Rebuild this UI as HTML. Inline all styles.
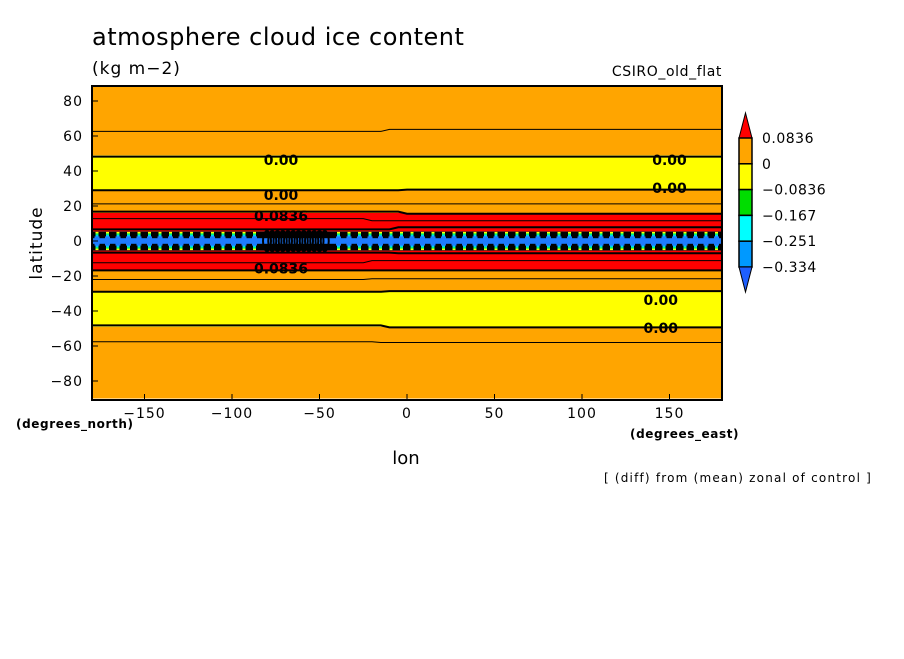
<!DOCTYPE html>
<html><head><meta charset="utf-8"><style>
body{margin:0;background:#fff;width:904px;height:654px;overflow:hidden}
svg text{font-family:"DejaVu Sans","Liberation Sans",sans-serif}
</style></head><body>
<svg id="chart" width="904" height="654" viewBox="0 0 904 654">
<defs><clipPath id="pc"><rect x="92" y="86" width="630" height="314"/></clipPath></defs>
<text x="92" y="45" font-size="24" letter-spacing="0.5">atmosphere cloud ice content</text>
<text x="92" y="74" font-size="17" letter-spacing="1">(kg m−2)</text>
<text x="722" y="76" font-size="14" letter-spacing="0.6" text-anchor="end">CSIRO_old_flat</text>
<g id="plot" clip-path="url(#pc)"></g>
<g id="axes"></g>
<g id="cbar"></g>
<text x="42" y="243" font-size="17" letter-spacing="1" text-anchor="middle" transform="rotate(-90 42 243)">latitude</text>
<text x="406" y="464" font-size="18" text-anchor="middle">lon</text>
<text x="16" y="428" font-size="12" font-weight="bold" letter-spacing="0.6">(degrees_north)</text>
<text x="630" y="438" font-size="12" font-weight="bold" letter-spacing="0.6">(degrees_east)</text>
<text x="872" y="482" font-size="12" letter-spacing="1.2" text-anchor="end">[ (diff) from (mean) zonal of control ]</text>
</svg>
<script>
const NS="http://www.w3.org/2000/svg";
const xTicks=[-150,-100,-50,0,50,100,150];
const yTicks=[80,60,40,20,0,-20,-40,-60,-80];
const bandLo=[-90,-49,-29,-17,-5.5,5.5,16,29,49];
const bandHi=[-49,-29,-17,-5.5,5.5,16,29,49,90];
const bandCol=["#ffa500","#ffff00","#ffa500","#ff0000","#000000","#ff0000","#ffa500","#ffff00","#ffa500"];
const contourLats=[49,29,16,7,-7,-16,-29,-49,63,-58,22,-22,12,-12];
const labelLon=[-72,-72,145,145,-72,-72,150,150];
const labelLat=[47,27,-33,-49,15,-15,47,31];
const labelTxt=["0.00","0.00","0.00","0.00","0.0836","0.0836","0.00","0.00"];
const cbLevels=["0.0836","0","−0.0836","−0.167","−0.251","−0.334"];
const cbColors=["#ffa500","#ffff00","#00dd00","#00ffff","#0099ff"];
const X=lon=>92+(lon+180)*630/360;
const Y=lat=>241-lat*1.75;
function el(t,a,p){const e=document.createElementNS(NS,t);for(const k in a)e.setAttribute(k,a[k]);p.appendChild(e);return e;}
const plot=document.getElementById('plot');
for(let i=0;i<bandLo.length;i++){
  const r=el('rect',{x:92,y:Y(bandHi[i]),width:630,height:Y(bandLo[i])-Y(bandHi[i]),fill:bandCol[i]},plot);
  
  
}
const eq=el('rect',{x:92,y:Y(1.6),width:630,height:Y(-1.6)-Y(1.6),fill:"#1e7bff"},plot);


for(let lon=-178;lon<178;lon+=6){
  if(lon>-84&&lon<-44)continue;
  const g=el('g',{},plot);
  
  
  el('rect',{x:X(lon),y:Y(4.5),width:3,height:Y(-4.5)-Y(4.5),fill:"#00ff66"},g);
  el('rect',{x:X(lon),y:Y(3.5),width:3,height:Y(-3.5)-Y(3.5),fill:"#00ccff"},g);
  el('rect',{x:X(lon)-1,y:Y(2.6),width:5,height:Y(-2.6)-Y(2.6),fill:"#1e7bff"},g);
  el('rect',{x:X(lon),y:Y(5.2),width:3,height:1.5,fill:"#ffff00"},g);
  el('rect',{x:X(lon),y:Y(-5.2)-1.5,width:3,height:1.5,fill:"#ffff00"},g);
}
const blob=el('g',{},plot);


for(let lon=-80;lon<-46;lon+=3){
  el('ellipse',{cx:X(lon),cy:Y(0),rx:4,ry:10,fill:"none",stroke:"#000","stroke-width":2},blob);
}
contourLats.forEach((lat,i)=>{
  let d="";
  for(let lon=-180;lon<=180;lon+=5){
    const w=((Math.abs(lon*7+i*13))%5-2)*0.4;
    d+=(lon===-180?"M":"L")+X(lon).toFixed(1)+","+Y(lat+w).toFixed(1);
  }
  const p=el('path',{d:d,fill:"none",stroke:"#000","stroke-width":i<8?2:1},plot);
  
  
});
labelTxt.forEach((t,i)=>{
  const tx=el('text',{x:X(labelLon[i]),y:Y(labelLat[i])+6,"font-size":14,"font-weight":"bold","text-anchor":"middle"},plot);
  tx.textContent=t;
  
  
});
const axes=document.getElementById('axes');
const fr=el('rect',{x:92,y:86,width:630,height:314,fill:"none",stroke:"#000","stroke-width":2},axes);


xTicks.forEach(v=>{
  el('line',{x1:X(v),x2:X(v),y1:400,y2:394,stroke:"#000"},axes);
  const t=el('text',{x:X(v),y:418,"font-size":14,"letter-spacing":1,"text-anchor":"middle"},axes);
  t.textContent=(v<0?"−":"")+Math.abs(v);
  
  
});
yTicks.forEach(v=>{
  el('line',{x1:92,x2:98,y1:Y(v),y2:Y(v),stroke:"#000"},axes);
  const t=el('text',{x:83,y:Y(v)+5,"font-size":14,"letter-spacing":1,"text-anchor":"end"},axes);
  t.textContent=(v<0?"−":"")+Math.abs(v);
  
  
});
const cb=document.getElementById('cbar');
const cbTop=el('polygon',{points:"739,138 752,138 745.5,113",fill:"#ff0000",stroke:"#000"},cb);


cbColors.forEach((c,i)=>{
  const r=el('rect',{x:739,y:138+i*25.8,width:13,height:25.8,fill:c,stroke:"#000","stroke-width":1.5},cb);
  
  
});
const cbBot=el('polygon',{points:"739,267 752,267 745.5,292",fill:"#1e5fff",stroke:"#000"},cb);


cbLevels.forEach((s,i)=>{
  const t=el('text',{x:762,y:143+i*25.8,"font-size":14,"letter-spacing":0.5},cb);
  t.textContent=s;
  
  
});
</script>
</body></html>
